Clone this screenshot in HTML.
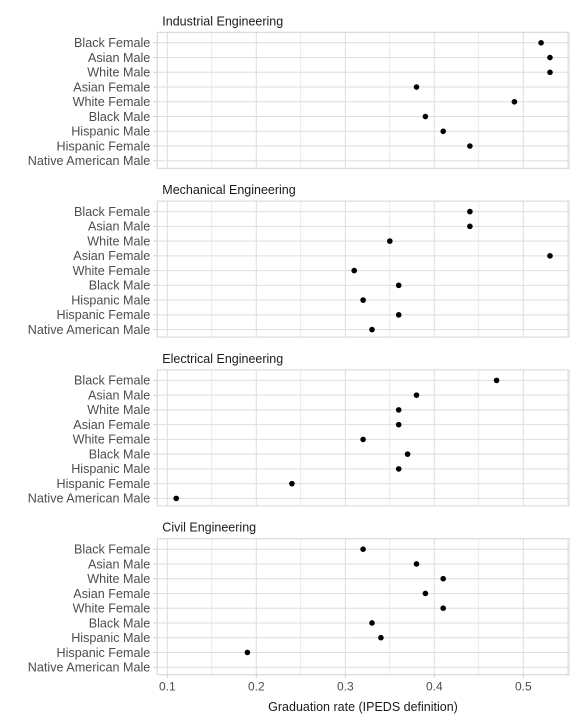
<!DOCTYPE html>
<html><head><meta charset="utf-8"><style>
body{margin:0;background:#fff;font-family:"Liberation Sans",sans-serif}
svg text{font-family:"Liberation Sans",sans-serif}
</style></head><body>
<svg id="c" width="576" height="720"></svg>
<script>
const panels=["Industrial Engineering","Mechanical Engineering","Electrical Engineering","Civil Engineering"];
const categories=["Black Female","Asian Male","White Male","Asian Female","White Female","Black Male","Hispanic Male","Hispanic Female","Native American Male"];
const industrial=[0.52,0.53,0.53,0.38,0.49,0.39,0.41,0.44,null];
const mechanical=[0.44,0.44,0.35,0.53,0.31,0.36,0.32,0.36,0.33];
const electrical=[0.47,0.38,0.36,0.36,0.32,0.37,0.36,0.24,0.11];
const civil=[0.32,0.38,0.41,0.39,0.41,0.33,0.34,0.19,null];
const ticks=[0.1,0.2,0.3,0.4,0.5];
const series=[industrial,mechanical,electrical,civil];
const NS="http://www.w3.org/2000/svg",svg=document.getElementById('c');
const L=157.3,R=569;
const x=v=>167.3+(v-0.1)*890;
function mk(t,a,p){const e=document.createElementNS(NS,t);for(const k in a)e.setAttribute(k,a[k]);(p||svg).appendChild(e);return e;}
panels.forEach((name,pi)=>{
  const top=32.3+pi*168.8,h=136;
  const y=i=>top+10.5+i*14.75;
  const g=mk('g',{});
  
  
  const t=mk('text',{x:L+5,y:top-7,'font-size':12.5,fill:'#1a1a1a'},g);t.textContent=name;
  
  
  for(let v=0.1;v<=0.551;v+=0.05){const xx=x(+v.toFixed(2));mk('line',{x1:xx,x2:xx,y1:top,y2:top+h,stroke:'#dedede','stroke-width':Math.abs(v*10-Math.round(v*10))<0.01?1:0.6},g);}
  categories.forEach((c,i)=>{
    mk('line',{x1:L,x2:R,y1:y(i),y2:y(i),stroke:'#dedede','stroke-width':1},g);
    mk('line',{x1:L-4,x2:L,y1:y(i),y2:y(i),stroke:'#cccccc'},g);
    const lt=mk('text',{x:L-7,y:y(i)+4.3,'font-size':12.6,fill:'#4d4d4d','text-anchor':'end'},g);lt.textContent=c;
    
    
  });
  mk('rect',{x:L,y:top,width:R-L,height:h,fill:'none',stroke:'#d4d4d4'},g);
  series[pi].forEach((v,i)=>{if(v==null)return;
    const d=mk('circle',{cx:x(v),cy:y(i),r:2.8,fill:'#000'},g);
    
    
  });
});
const bot=32.3+3*168.8+136;
ticks.forEach(v=>{
  mk('line',{x1:x(v),x2:x(v),y1:bot,y2:bot+3,stroke:'#cccccc'});
  const t=mk('text',{x:x(v),y:bot+16,'font-size':12,fill:'#4d4d4d','text-anchor':'middle'});t.textContent=v;
  
  
});
const xt=mk('text',{x:363,y:711,'font-size':12.5,fill:'#1a1a1a','text-anchor':'middle'});xt.textContent="Graduation rate (IPEDS definition)";


</script>
</body></html>
